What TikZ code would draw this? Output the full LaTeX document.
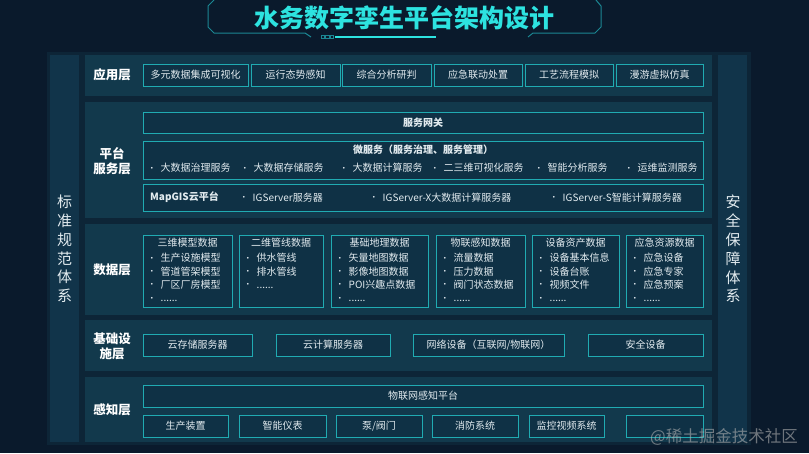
\documentclass[tikz,border=0pt]{standalone}
\usepackage{fontspec}
\setmainfont{Noto Sans CJK SC}
\newfontfamily\dotfont{DejaVu Sans}
\definecolor{night}{HTML}{0A1A2C}
\definecolor{backdrop}{HTML}{0D2537}
\definecolor{panel}{HTML}{12394C}
\definecolor{column}{HTML}{11344A}
\definecolor{cellfill}{HTML}{0F3145}
\definecolor{rim}{HTML}{20ABB2}
\definecolor{glow}{HTML}{2DE3E0}
\definecolor{titlerim}{HTML}{1B8793}
\definecolor{ink}{HTML}{E2EBEF}
\newcommand{\bul}{\raisebox{1.6pt}{\dotfont\fontsize{6}{6}\selectfont •}\hspace{7pt}}

\begin{document}
\begin{tikzpicture}[x=1pt,y=-1pt,
                tier/.style={rectangle,fill=panel,inner sep=0pt,anchor=north west},
                pillar/.style={rectangle,fill=column,inner sep=0pt,anchor=north west,minimum width=29pt,minimum height=387pt},
                cell/.style={rectangle,draw=rim,fill=cellfill,line width=1pt,inner sep=0pt,text=ink,font=\fontsize{10}{12}\selectfont},
                tag/.style={text=white,font=\bfseries\fontsize{12.5}{15}\selectfont,align=center},
                txt/.style={text=ink,font=\fontsize{10}{13.4}\selectfont,inner sep=0pt},
                items/.style={txt,align=left,anchor=north west},
                side/.style={text=ink,font=\fontsize{15}{18.8}\selectfont,align=center,inner sep=0pt}
                ]
            \useasboundingbox (0,0) rectangle (809,453);
            \fill[night] (0,0) rectangle (809,453);

            \draw[titlerim,line width=1pt] (214,0) -- (208,6) -- (208,27) -- (214,33) -- (305,33) -- (311,37);
            \draw[titlerim,line width=1pt] (596,0) -- (601,6) -- (601,27) -- (595,33) -- (533,33) -- (528,37);
            \draw[titlerim,line width=0.6pt] (321,35.5) rectangle +(3.5,3) (325.5,35.5) rectangle +(3.5,3) (330,35.5) rectangle +(3.5,3);
            \draw[glow,line width=1.4pt] (335,37) -- (436,37);
            \node[text=glow,font=\bfseries\fontsize{25}{28}\selectfont] (heading) at (404,18) {水务数字孪生平台架构设计};

            \fill[backdrop] (47,52) rectangle (751,445);
            \node[pillar] (stdcol) at (50,55) {};
            \node[pillar] (safecol) at (718,55) {};
            \node[side] (stdtext) at (64.5,249) {标\\准\\规\\范\\体\\系};
            \node[side] (safetext) at (733,249) {安\\全\\保\\障\\体\\系};

            \node[tier,minimum width=627pt,minimum height=41pt] (appbar) at (85,55) {};
            \node[tier,minimum width=627pt,minimum height=116pt] (platbar) at (85,102) {};
            \node[tier,minimum width=627pt,minimum height=91pt] (databar) at (85,224) {};
            \node[tier,minimum width=627pt,minimum height=51pt] (infrabar) at (85,320) {};
            \node[tier,minimum width=627pt,minimum height=65pt] (sensebar) at (85,377) {};

            \node[tag] (apptag) at (112,75) {应用层};
            \node[tag] (plattag) at (112,161) {平台\\服务层};
            \node[tag] (datatag) at (112,270) {数据层};
            \node[tag] (infratag) at (112,346) {基础设\\施层};
            \node[tag] (sensetag) at (112,410) {感知层};

            \node[cell,minimum width=105pt,minimum height=22pt] (app1) at (195.5,75) {多元数据集成可视化};
            \node[cell,minimum width=89pt,minimum height=22pt] (app2) at (295.5,75) {运行态势感知};
            \node[cell,minimum width=89pt,minimum height=22pt] (app3) at (386.5,75) {综合分析研判};
            \node[cell,minimum width=88pt,minimum height=22pt] (app4) at (478,75) {应急联动处置};
            \node[cell,minimum width=88pt,minimum height=22pt] (app5) at (569,75) {工艺流程模拟};
            \node[cell,minimum width=87pt,minimum height=22pt] (app6) at (659.5,75) {漫游虚拟仿真};

            \node[cell,minimum width=560pt,minimum height=21pt,font=\bfseries\fontsize{10}{12}\selectfont] (gateway) at (423,122.5) {服务网关};
            \node[cell,minimum width=560pt,minimum height=38pt] (micro) at (423,160) {};
            \node[txt,font=\bfseries\fontsize{10}{12}\selectfont] (microhead) at (423,150) {微服务（服务治理、服务管理）};
            \node[txt,anchor=west] (ms1) at (150,168) {\bul 大数据治理服务};
            \node[txt,anchor=west] (ms2) at (243,168) {\bul 大数据存储服务};
            \node[txt,anchor=west] (ms3) at (342,168) {\bul 大数据计算服务};
            \node[txt,anchor=west] (ms4) at (433,168) {\bul 二三维可视化服务};
            \node[txt,anchor=west] (ms5) at (537,168) {\bul 智能分析服务};
            \node[txt,anchor=west] (ms6) at (627,168) {\bul 运维监测服务};

            \node[cell,minimum width=560pt,minimum height=27pt] (cloud) at (423,197.5) {};
            \node[txt,anchor=west,font=\bfseries\fontsize{10}{12}\selectfont] (cloudhead) at (150,197.5) {MapGIS云平台};
            \node[txt,anchor=west] (gis1) at (242,197.5) {\bul IGServer服务器};
            \node[txt,anchor=west] (gis2) at (372,197.5) {\bul IGServer-X大数据计算服务器};
            \node[txt,anchor=west] (gis3) at (552,197.5) {\bul IGServer-S智能计算服务器};

            \node[cell,minimum width=89pt,minimum height=72pt] (data1) at (187.5,271) {};
            \node[cell,minimum width=84pt,minimum height=72pt] (data2) at (281,271) {};
            \node[cell,minimum width=97pt,minimum height=72pt] (data3) at (379.5,271) {};
            \node[cell,minimum width=89pt,minimum height=72pt] (data4) at (480.5,271) {};
            \node[cell,minimum width=87pt,minimum height=72pt] (data5) at (575.5,271) {};
            \node[cell,minimum width=77pt,minimum height=72pt] (data6) at (664.5,271) {};

            \node[txt] (data1head) at (187.5,243) {三维模型数据};
            \node[txt] (data2head) at (281,243) {二维管线数据};
            \node[txt] (data3head) at (379.5,243) {基础地理数据};
            \node[txt] (data4head) at (480.5,243) {物联感知数据};
            \node[txt] (data5head) at (575.5,243) {设备资产数据};
            \node[txt] (data6head) at (664.5,243) {应急资源数据};

            \node[items] (data1list) at (150,253) {\bul 生产设施模型\\\bul 管道管架模型\\\bul 厂区厂房模型\\\bul ......};
            \node[items] (data2list) at (246,253) {\bul 供水管线\\\bul 排水管线\\\bul ......};
            \node[items] (data3list) at (338,253) {\bul 矢量地图数据\\\bul 影像地图数据\\\bul POI兴趣点数据\\\bul ......};
            \node[items] (data4list) at (443,253) {\bul 流量数据\\\bul 压力数据\\\bul 阀门状态数据\\\bul ......};
            \node[items] (data5list) at (539,253) {\bul 设备基本信息\\\bul 设备台账\\\bul 视频文件\\\bul ......};
            \node[items] (data6list) at (633,253) {\bul 应急设备\\\bul 应急专家\\\bul 应急预案\\\bul ......};

            \node[cell,minimum width=109pt,minimum height=22pt] (infra1) at (197.5,345) {云存储服务器};
            \node[cell,minimum width=114pt,minimum height=22pt] (infra2) at (333,345) {云计算服务器};
            \node[cell,minimum width=151pt,minimum height=22pt] (infra3) at (488.5,345) {网络设备（互联网/物联网）};
            \node[cell,minimum width=115pt,minimum height=22pt] (infra4) at (645.5,345) {安全设备};

            \node[cell,minimum width=560pt,minimum height=22pt] (iot) at (423,396) {物联网感知平台};
            \node[cell,minimum width=85pt,minimum height=22pt] (sense1) at (185.5,426) {生产装置};
            \node[cell,minimum width=87pt,minimum height=22pt] (sense2) at (282.5,426) {智能仪表};
            \node[cell,minimum width=86pt,minimum height=22pt] (sense3) at (379,426) {泵/阀门};
            \node[cell,minimum width=86pt,minimum height=22pt] (sense4) at (475,426) {消防系统};
            \node[cell,minimum width=75pt,minimum height=22pt] (sense5) at (566.5,426) {监控视频系统};
            \node[cell,minimum width=77pt,minimum height=22pt] (sense6) at (664.5,426) {};

            \node[anchor=west,text=gray!60,opacity=0.6,font=\fontsize{16.5}{18}\selectfont,inner sep=0pt] (mark) at (650,437) {@稀土掘金技术社区};

            \end{tikzpicture}
\end{document}
